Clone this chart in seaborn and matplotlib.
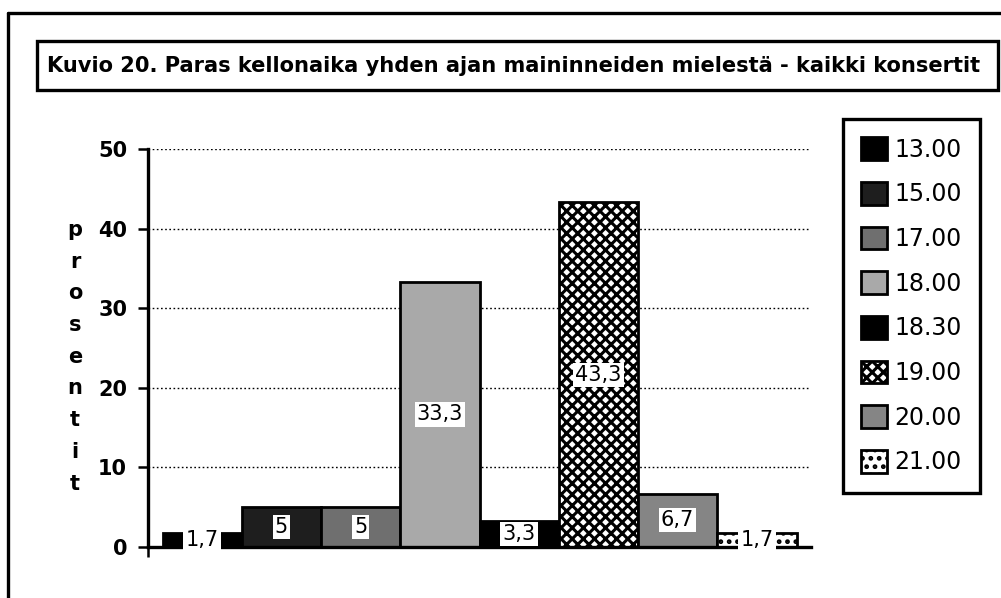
import matplotlib
matplotlib.use("Agg")
import matplotlib.pyplot as plt
import seaborn as sns
import pandas as pd
from matplotlib.patches import Rectangle
from matplotlib.lines import Line2D

# ---- data ----
times = ["13.00", "15.00", "17.00", "18.00", "18.30", "19.00", "20.00", "21.00"]
values = [1.7, 5.0, 5.0, 33.3, 3.3, 43.3, 6.7, 1.7]
yticks = [0, 10, 20, 30, 40, 50]
title = "Kuvio 20. Paras kellonaika yhden ajan maininneiden mielestä - kaikki konsertit"
ylabel = "prosentit"

def fmt(v):
    s = f"{v:.1f}"
    if s.endswith(".0"):
        s = s[:-2]
    return s.replace(".", ",")

face = ["#000000", "#1e1e1e", "#6f6f6f", "#a9a9a9", "#000000", "#ffffff", "#858585", "#ffffff"]
hatches = [None, None, None, None, None, "xxx", None, ".."]

W, H = 1001, 598
sns.set_style("white")
plt.rcParams["font.family"] = ["DejaVu Sans"]
plt.rcParams["hatch.linewidth"] = 2.2
plt.rcParams["hatch.color"] = "black"
for k in ["text.color", "axes.labelcolor", "xtick.color", "ytick.color", "axes.edgecolor"]:
    plt.rcParams[k] = "black"

fig = plt.figure(figsize=(W / 100, H / 100), dpi=100)
ax = fig.add_axes([148 / W, 1 - 547 / H, (811 - 148) / W, (547 - 149) / H])

df = pd.DataFrame({"cat": [""] * len(times), "time": times, "value": values})
sns.barplot(data=df, x="cat", y="value", hue="time", hue_order=times, ax=ax,
            width=1.0, gap=0, legend=False, edgecolor="black", linewidth=2.0,
            palette=dict(zip(times, face)), saturation=1)

for i, cont in enumerate(ax.containers):
    for p in cont.patches:
        p.set_facecolor(face[i])
        p.set_edgecolor("black")
        if hatches[i]:
            p.set_hatch(hatches[i])
    ax.bar_label(cont, labels=[fmt(values[i])], label_type="center",
                 fontsize=15, color="black", padding=0,
                 bbox=dict(boxstyle="square,pad=0.1", fc="white", ec="none"))

xl = 0.5 * 331.5 / 317
ax.set_xlim(-xl, xl)
ax.set_ylim(0, 50)
ax.set_yticks(yticks)
ax.set_yticklabels([str(t) for t in yticks], fontsize=15, fontweight="bold")
ax.set_xticks([-xl])
ax.set_xticklabels([""])
ax.set_xlabel("")
ax.set_ylabel("")
ax.tick_params(axis="y", direction="out", length=7, width=1.8, pad=8, left=True)
ax.tick_params(axis="x", direction="out", length=7, width=1.8, bottom=True)
ax.yaxis.grid(True, linestyle=(0, (1.2, 1.8)), color="black", linewidth=1.0)
ax.set_axisbelow(True)
for s in ["top", "right"]:
    ax.spines[s].set_visible(False)
for s in ["left", "bottom"]:
    ax.spines[s].set_linewidth(2.4)
    ax.spines[s].set_color("black")

# vertical stacked y label
for k, ch in enumerate(ylabel):
    y = 230 + k * 31.7
    fig.text(75 / W, 1 - y / H, ch, ha="center", va="center", fontsize=15, fontweight="bold")

# title box
fig.add_artist(Rectangle((37 / W, 1 - 90 / H), (998 - 37) / W, (90 - 41) / H,
                         transform=fig.transFigure, fill=False, lw=2.4, ec="black"))
fig.text(47 / W, 1 - 66 / H, title, ha="left", va="center", fontsize=15.1,
         fontweight="bold")

# outer frame (left, top)
for xs, ys in [((8, 8), (H, 13)), ((8, W), (13, 13))]:
    fig.add_artist(Line2D([x / W for x in xs], [1 - y / H for y in ys],
                          transform=fig.transFigure, color="black", lw=2.4))

# legend
leg = fig.legend(ax.containers, times, loc="upper left",
                 bbox_to_anchor=(843 / W, 1 - 119 / H), bbox_transform=fig.transFigure,
                 frameon=True, fancybox=False, framealpha=1, fontsize=17, handlelength=1.1,
                 handleheight=1.1, handletextpad=0.3, labelspacing=0.86,
                 borderpad=0.78, borderaxespad=0)
leg.get_frame().set_edgecolor("black")
leg.get_frame().set_linewidth(2.4)

fig.savefig("out.png", dpi=100)
